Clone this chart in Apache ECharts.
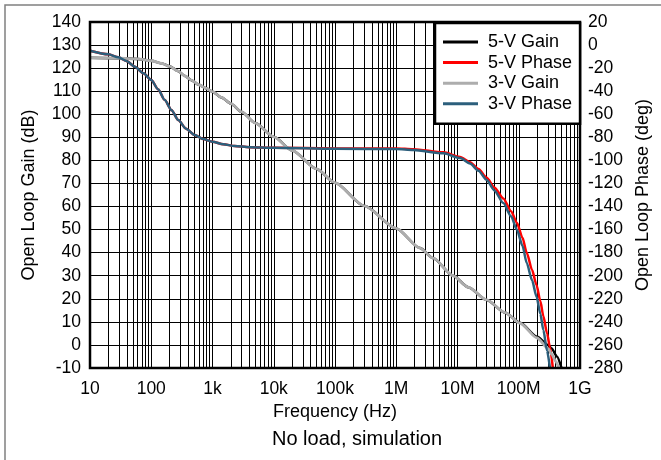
<!DOCTYPE html>
<html>
<head>
<meta charset="utf-8">
<script src="https://cdn.jsdelivr.net/npm/echarts@6/dist/echarts.min.js"></script>
<style>
html,body{margin:0;padding:0;background:#fff;}
#chart{width:661px;height:460px;}
</style>
</head>
<body>
<div id="chart"></div>
<script>
// ---- Data ----
const freqGain3 = [10, 30, 60, 100, 150, 200, 270, 355, 450, 600, 800, 1000, 1400, 2000, 3000, 5000, 10000, 20000, 50000, 100000, 300000, 1e6, 2.44e6, 4e6, 8.5e6, 15e6, 30e6, 60e6, 105e6, 200e6, 300e6, 345e6, 400e6, 450e6];
const gain3     = [124.5, 124.3, 124, 123.2, 122, 120.8, 118.8, 116.6, 114.8, 112.8, 111.2, 109.8, 107.3, 104.6, 101, 96.2, 90.2, 84.3, 76.3, 70.3, 60.3, 50.5, 42, 37.6, 30, 25, 19.5, 14, 9.4, 3, -1.5, -4, -7, -10];

const freqGain5 = [10, 30, 60, 100, 150, 200, 270, 355, 450, 600, 800, 1000, 1400, 2000, 3000, 5000, 10000, 20000, 50000, 100000, 300000, 1e6, 2.44e6, 4e6, 8.5e6, 15e6, 30e6, 60e6, 105e6, 200e6, 300e6, 345e6, 420e6, 500e6];
const gain5     = [124.5, 124.3, 124, 123.2, 122, 120.8, 118.8, 116.6, 114.8, 112.8, 111.2, 109.8, 107.3, 104.6, 101, 96.2, 90.2, 84.3, 76.3, 70.3, 60.3, 50.5, 42, 37.6, 30, 25, 19.5, 14, 9.6, 3.5, 0, -1.5, -5, -10];

const freqPhase3 = [10, 20, 29, 40, 54, 75, 100, 130, 166, 215, 276, 370, 513, 700, 1000, 1500, 2300, 4000, 10000, 100000, 1e6, 1.9e6, 5.9e6, 11e6, 16e6, 22e6, 30e6, 40e6, 56e6, 75e6, 93e6, 115e6, 135e6, 165e6, 195e6, 225e6, 252e6, 290e6, 323e6];
const phase3     = [-4.9, -8, -10.6, -14, -18.8, -24.5, -30.3, -38.5, -47.6, -56.5, -65, -72.5, -78, -81.5, -83.8, -86, -87.5, -88.5, -89, -90, -90.2, -91, -93.9, -98, -102.6, -109, -117, -126, -137, -148.5, -160, -174, -189, -204, -218, -233, -247, -265, -280];

const freqPhase5 = [10, 20, 29, 40, 54, 75, 100, 130, 166, 215, 276, 370, 513, 700, 1000, 1500, 2300, 4000, 10000, 100000, 1e6, 1.9e6, 5.9e6, 11e6, 16e6, 22e6, 30e6, 40e6, 56e6, 75e6, 93e6, 115e6, 135e6, 165e6, 195e6, 225e6, 252e6, 290e6, 323e6, 360e6];
const phase5     = [-4.9, -8, -10.6, -14, -18.8, -24.5, -30.3, -38.5, -47.6, -56.5, -65, -72.5, -78, -81.5, -83.8, -86, -87.5, -88.5, -89, -89.6, -89.6, -90.3, -93, -97, -101.5, -107.5, -115, -123.5, -133, -144, -154, -167, -180, -195, -208, -222, -235, -250, -262, -280];

const xTickValues = [10, 100, 1000, 1e4, 1e5, 1e6, 1e7, 1e8, 1e9];
const xTickLabels = ['10', '100', '1k', '10k', '100k', '1M', '10M', '100M', '1G'];
const minorMultipliers = [2, 3, 4, 5, 6, 7, 8, 9];

const seriesNames = ['5-V Gain', '5-V Phase', '3-V Gain', '3-V Phase'];
const seriesColors = ['#000000', '#ff0000', '#adadad', '#2c5f7c'];

// ---- Build ----
function pairs(xs, ys) { return xs.map((x, i) => [x, ys[i]]); }
const minorLines = [];
xTickValues.slice(0, -1).forEach(d => minorMultipliers.forEach(m => minorLines.push({ xAxis: d * m })));

const FONT = "'Liberation Sans', Arial, Helvetica, sans-serif";
const chart = echarts.init(document.getElementById('chart'), null, { renderer: 'canvas' });

const lineBase = { type: 'line', showSymbol: false, symbol: 'none', smooth: 0.25, smoothMonotone: 'x', animation: false, silent: true, zlevel: 1 };

chart.setOption({
  animation: false,
  backgroundColor: '#ffffff',
  textStyle: { fontFamily: FONT, color: '#000' },
  title: {
    text: 'No load, simulation',
    left: 272, top: 429, padding: 0,
    textStyle: { fontFamily: FONT, fontSize: 20, fontWeight: 'normal', color: '#000' }
  },
  graphic: [{
    type: 'rect', silent: true, z: 100,
    shape: { x: 5, y: 5, width: 700, height: 500 },
    style: { fill: 'none', stroke: '#808080', lineWidth: 1.5 }
  }],
  grid: {
    left: 90, right: 81, top: 22, bottom: 92, zlevel: 2,
    show: true, borderColor: '#000', borderWidth: 2.5, backgroundColor: 'transparent', z: 12
  },
  legend: {
    data: seriesNames.map(n => ({ name: n, icon: 'rect' })),
    orient: 'vertical',
    left: 435, top: 23, z: 20, zlevel: 2,
    padding: [10, 8, 11, 8],
    itemWidth: 35, itemHeight: 3, itemGap: 2.6,
    backgroundColor: '#ffffff', borderColor: '#000', borderWidth: 2.5, borderRadius: 0,
    formatter: name => '{g|}' + name,
    textStyle: {
      fontFamily: FONT, fontSize: 18, color: '#000',
      rich: { g: { width: 5, fontSize: 18 } }
    },
    selectedMode: false
  },
  xAxis: {
    type: 'log', logBase: 10, min: 10, max: 1e9, interval: 1,
    name: 'Frequency (Hz)', nameLocation: 'middle', nameGap: 30,
    nameTextStyle: { fontFamily: FONT, fontSize: 18, color: '#000' },
    axisLine: { show: false },
    axisTick: { show: false },
    axisLabel: {
      fontFamily: FONT, fontSize: 17.5, color: '#000', margin: 12,
      formatter: v => { const i = xTickValues.findIndex(t => Math.abs(Math.log10(t) - Math.log10(v)) < 1e-6); return i >= 0 ? xTickLabels[i] : ''; }
    },
    splitLine: { show: true, lineStyle: { color: '#000', width: 1 } }
  },
  yAxis: [{
    type: 'value', min: -10, max: 140, interval: 10, position: 'left',
    name: 'Open Loop Gain (dB)', nameLocation: 'middle', nameGap: 52,
    nameTextStyle: { fontFamily: FONT, fontSize: 18, color: '#000' },
    axisLine: { show: false }, axisTick: { show: false },
    axisLabel: { fontFamily: FONT, fontSize: 17.5, color: '#000', margin: 9 },
    splitLine: { show: true, lineStyle: { color: '#000', width: 1 } }
  }, {
    type: 'value', min: -280, max: 20, interval: 20, position: 'right',
    name: 'Open Loop Phase (deg)', nameLocation: 'middle', nameGap: 52, nameRotate: 90,
    nameTextStyle: { fontFamily: FONT, fontSize: 18, color: '#000' },
    axisLine: { show: false }, axisTick: { show: false },
    axisLabel: { fontFamily: FONT, fontSize: 17.5, color: '#000', margin: 8 },
    splitLine: { show: false }
  }],
  series: [
    {
      name: '_minor', type: 'line', data: [], silent: true, z: 1,
      markLine: {
        silent: true, z: 1, symbol: ['none', 'none'], label: { show: false }, animation: false,
        lineStyle: { color: '#000', width: 1, type: 'solid' },
        emphasis: { disabled: true },
        data: minorLines
      }
    },
    Object.assign({}, lineBase, { name: seriesNames[0], yAxisIndex: 0, data: pairs(freqGain5, gain5), lineStyle: { color: seriesColors[0], width: 2.5 }, itemStyle: { color: seriesColors[0] }, z: 8 }),
    Object.assign({}, lineBase, { name: seriesNames[1], yAxisIndex: 1, data: pairs(freqPhase5, phase5), lineStyle: { color: seriesColors[1], width: 2.5 }, itemStyle: { color: seriesColors[1] }, z: 8 }),
    Object.assign({}, lineBase, { name: seriesNames[2], yAxisIndex: 0, data: pairs(freqGain3, gain3), lineStyle: { color: seriesColors[2], width: 2.8 }, itemStyle: { color: seriesColors[2] }, z: 9 }),
    Object.assign({}, lineBase, { name: seriesNames[3], yAxisIndex: 1, data: pairs(freqPhase3, phase3), lineStyle: { color: seriesColors[3], width: 2.5 }, itemStyle: { color: seriesColors[3] }, z: 9 })
  ]
});
</script>
</body>
</html>
